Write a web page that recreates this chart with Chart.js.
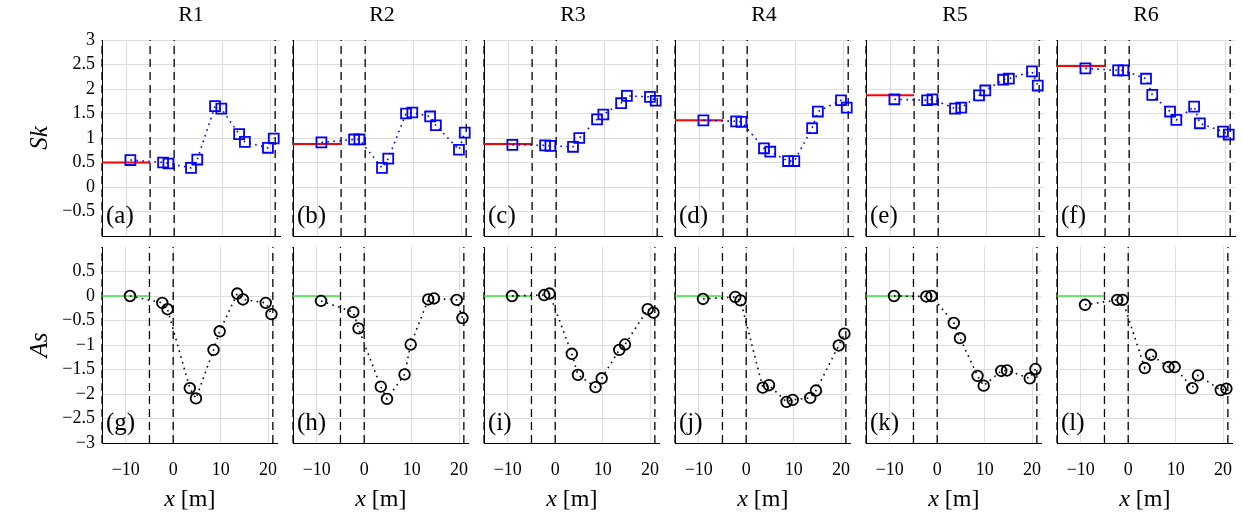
<!DOCTYPE html>
<html>
<head>
<meta charset="utf-8">
<script src="https://cdn.jsdelivr.net/npm/chart.js@4.4.1/dist/chart.umd.min.js"></script>
<style>
  html, body { margin: 0; padding: 0; background: #fff; }
  body { width: 1243px; height: 526px; position: relative; overflow: hidden; }
  .panel { position: absolute; }
</style>
</head>
<body>
<script>
// runs and panel letters
const runs = ['R1', 'R2', 'R3', 'R4', 'R5', 'R6'];
const skLetters = ['(a)', '(b)', '(c)', '(d)', '(e)', '(f)'];
const asLetters = ['(g)', '(h)', '(i)', '(j)', '(k)', '(l)'];

// measurement positions along the flume [m]
const xPos = [-9.1, -2.3, -1.2, 3.5, 4.8, 8.5, 9.8, 13.5, 14.7, 19.5, 20.7];

// skewness Sk per run
const skR1 = [0.55, 0.50, 0.48, 0.39, 0.56, 1.65, 1.60, 1.08, 0.92, 0.80, 0.99];
const skR2 = [0.91, 0.97, 0.97, 0.39, 0.58, 1.50, 1.52, 1.44, 1.26, 0.76, 1.11];
const skR3 = [0.86, 0.85, 0.84, 0.82, 1.00, 1.38, 1.48, 1.71, 1.86, 1.84, 1.76];
const skR4 = [1.36, 1.34, 1.33, 0.79, 0.72, 0.53, 0.53, 1.20, 1.54, 1.77, 1.62];
const skR5 = [1.79, 1.77, 1.79, 1.60, 1.62, 1.87, 1.97, 2.19, 2.21, 2.36, 2.07];
const skR6 = [2.42, 2.38, 2.38, 2.21, 1.88, 1.54, 1.37, 1.64, 1.30, 1.13, 1.07];
const skRef = [0.50, 0.88, 0.88, 1.36, 1.87, 2.47];

// asymmetry As per run
const asR1 = [0.00, -0.14, -0.27, -1.88, -2.09, -1.10, -0.72, 0.05, -0.07, -0.14, -0.37];
const asR2 = [-0.10, -0.33, -0.66, -1.85, -2.10, -1.60, -0.99, -0.07, -0.05, -0.08, -0.45];
const asR3 = [0.00, 0.02, 0.05, -1.18, -1.61, -1.86, -1.68, -1.10, -0.99, -0.27, -0.34];
const asR4 = [-0.06, -0.02, -0.09, -1.87, -1.82, -2.16, -2.12, -2.08, -1.93, -1.01, -0.77];
const asR5 = [0.00, -0.01, 0.00, -0.55, -0.86, -1.63, -1.83, -1.53, -1.52, -1.68, -1.49];
const asR6 = [-0.18, -0.08, -0.08, -1.47, -1.20, -1.45, -1.45, -1.88, -1.62, -1.92, -1.89];
const asRef = [0, 0, 0, 0, 0, 0];

// reference line spans x = -15 .. -5, section boundaries dashed
const refSpan = [-15, -5];
const sectionX = [-15, -5, 0, 21];

// axes
const xRange = [-15, 22];
const xTicks = [-10, 0, 10, 20];
const skRange = [-1, 3];
const skTicks = [-0.5, 0, 0.5, 1, 1.5, 2, 2.5, 3];
const asRange = [-3, 1];
const asTicks = [-3, -2.5, -2, -1.5, -1, -0.5, 0, 0.5];

const skSeries = [skR1, skR2, skR3, skR4, skR5, skR6];
const asSeries = [asR1, asR2, asR3, asR4, asR5, asR6];

// layout in page pixels
const COL_LEFT = [102, 293, 484, 675, 866, 1057];
const ROW_TOP = [40, 247];
const PLOT_W = 178, PLOT_H = 196;
const SIDE = 14, Y_AXIS_W = 80, X_AXIS_H = 76;
const SERIF = "'Liberation Serif', 'DejaVu Serif', serif";

Chart.defaults.font.family = SERIF;
Chart.defaults.color = '#000';
Chart.defaults.animation = false;

const fmt = v => String(v).replace('-', '\u2212');

const decor = {
  id: 'decor',
  afterDraw(chart, args, opts) {
    const { ctx, chartArea } = chart;
    ctx.save();
    ctx.fillStyle = '#000';
    ctx.textBaseline = 'alphabetic';
    ctx.font = '25px ' + SERIF;
    ctx.fillText(opts.letter, chartArea.left + 4, chartArea.bottom - 13);
    if (opts.xLabel) {
      const it = 'italic 24px ' + SERIF, up = '24px ' + SERIF;
      ctx.font = it; const w1 = ctx.measureText('x').width;
      ctx.font = up; const w2 = ctx.measureText(' [m]').width;
      const x0 = (chartArea.left + chartArea.right) / 2 - (w1 + w2) / 2;
      const y = chartArea.bottom + 57;
      ctx.textBaseline = 'middle';
      ctx.font = it; ctx.fillText('x', x0, y);
      ctx.font = up; ctx.fillText(' [m]', x0 + w1, y);
    }
    ctx.restore();
  }
};

function buildPanel(row, col) {
  const isLeft = col === 0, isBottom = row === 1;
  const yRange = row === 0 ? skRange : asRange;
  const yTicks = row === 0 ? skTicks : asTicks;
  const vals = row === 0 ? skSeries[col] : asSeries[col];
  const refY = row === 0 ? skRef[col] : asRef[col];
  const markColor = row === 0 ? '#0000ff' : '#000000';
  const refColor = row === 0 ? '#ff0000' : '#3be33b';

  const padL = SIDE + (isLeft ? Y_AXIS_W : 0), padR = SIDE;
  const padT = row === 0 ? 40 : 22;
  const padB = isBottom ? X_AXIS_H + 4 : 22;

  const wrap = document.createElement('div');
  wrap.className = 'panel';
  wrap.style.left = (COL_LEFT[col] - padL) + 'px';
  wrap.style.top = (ROW_TOP[row] - padT) + 'px';
  const cv = document.createElement('canvas');
  cv.width = padL + PLOT_W + padR;
  cv.height = padT + PLOT_H + padB;
  wrap.appendChild(cv);
  document.body.appendChild(wrap);

  const datasets = [];
  sectionX.forEach(sx => datasets.push({
    data: [{ x: sx, y: yRange[0] }, { x: sx, y: yRange[1] }],
    showLine: true, pointRadius: 0, borderColor: '#000', borderWidth: 1.3,
    borderDash: [8, 5], clip: false, order: 3
  }));
  datasets.push({
    data: refSpan.map(x => ({ x, y: refY })),
    showLine: true, pointRadius: 0, borderColor: refColor,
    borderWidth: row === 0 ? 2 : 1.6, order: 2
  });
  datasets.push({
    data: xPos.map((x, i) => ({ x, y: vals[i] })),
    showLine: true, borderColor: markColor, borderWidth: 1.6, borderDash: [1.6, 4.4],
    pointStyle: row === 0 ? 'rect' : 'circle',
    pointRadius: row === 0 ? 7 : 5.3,
    pointBorderColor: markColor, pointBackgroundColor: 'rgba(0,0,0,0)',
    pointBorderWidth: 1.8, clip: false, order: 0
  });

  new Chart(cv, {
    type: 'scatter',
    data: { datasets },
    plugins: [decor],
    options: {
      responsive: false,
      layout: {
        autoPadding: false,
        padding: { left: SIDE, right: SIDE, top: row === 0 ? 0 : padT, bottom: row === 0 ? padB : 4 }
      },
      plugins: {
        legend: { display: false },
        tooltip: { enabled: false },
        title: {
          display: row === 0, text: runs[col], fullSize: false,
          font: { size: 22, weight: 'normal' }, padding: { top: 2, bottom: 11.6 }
        },
        decor: { letter: row === 0 ? skLetters[col] : asLetters[col], xLabel: isBottom }
      },
      scales: {
        x: {
          type: 'linear', min: xRange[0], max: xRange[1],
          afterBuildTicks: s => { s.ticks = xTicks.map(v => ({ value: v })); },
          afterFit: s => { s.height = isBottom ? X_AXIS_H : 0; },
          grid: { color: '#dedede', drawTicks: false },
          border: { color: '#000', width: 1 },
          ticks: { display: isBottom, padding: 16, font: { size: 18 }, callback: fmt }
        },
        y: {
          type: 'linear', min: yRange[0], max: yRange[1],
          afterBuildTicks: s => { s.ticks = yTicks.map(v => ({ value: v })); },
          afterFit: s => { s.width = isLeft ? Y_AXIS_W : 0; },
          grid: { color: '#dedede', drawTicks: false },
          border: { color: '#000', width: 1 },
          ticks: { display: isLeft, padding: 7, font: { size: 18 }, callback: fmt },
          title: {
            display: isLeft, text: row === 0 ? 'Sk' : 'As',
            font: { size: 25, style: 'italic' }, padding: { top: 3, bottom: 0 }
          }
        }
      }
    }
  });
}

for (let r = 0; r < 2; r++) {
  for (let c = 0; c < 6; c++) buildPanel(r, c);
}
</script>
</body>
</html>
